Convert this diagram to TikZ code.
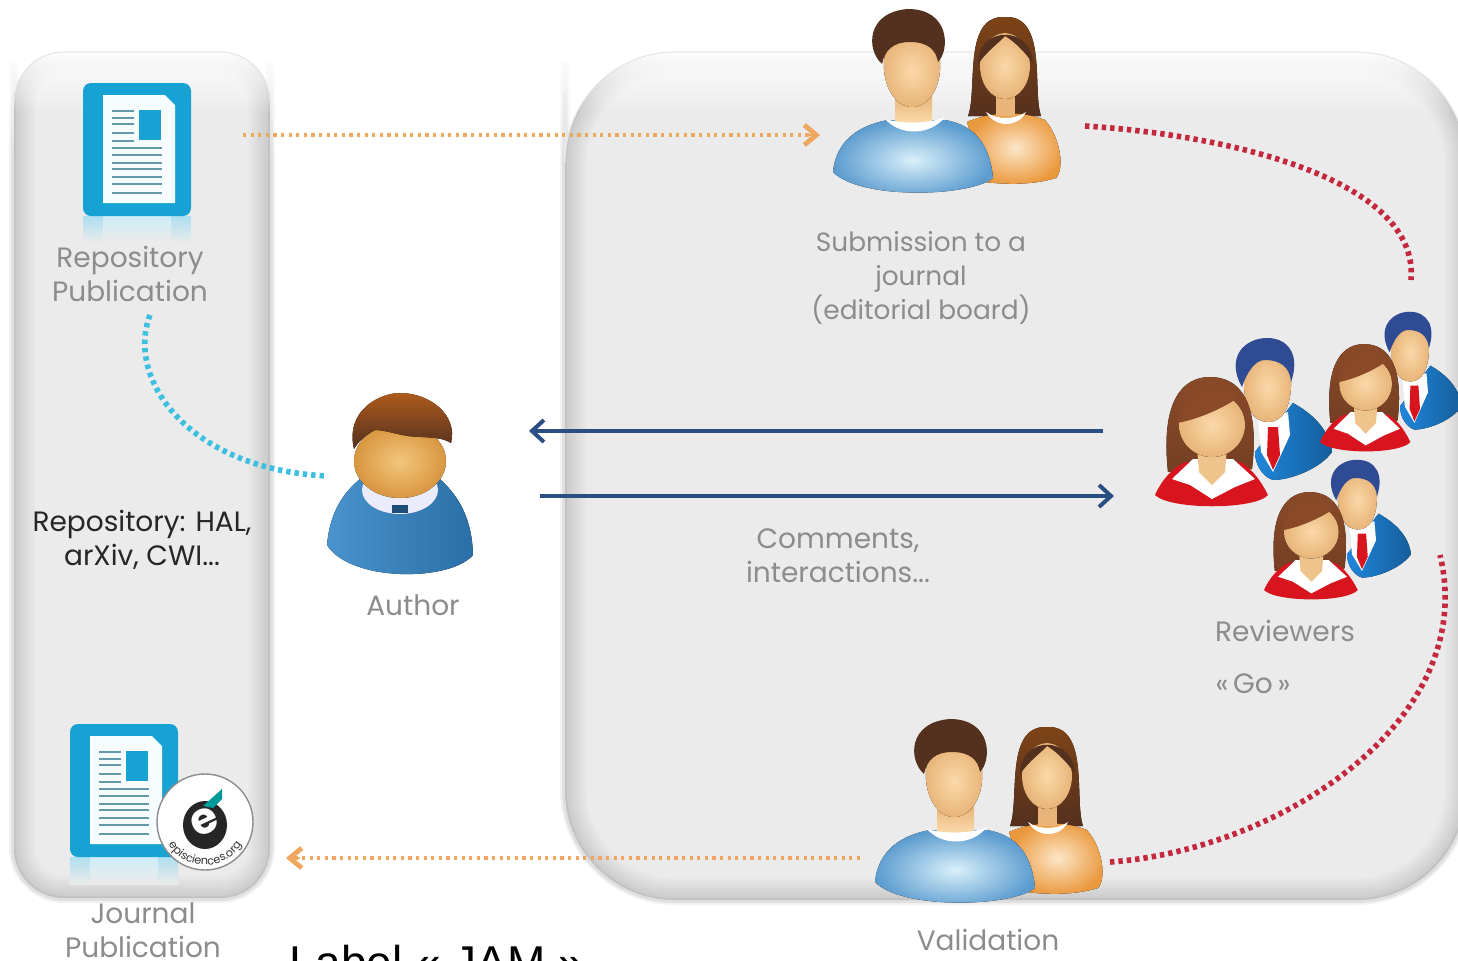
\documentclass[tikz,border=0pt]{standalone}
\usepackage{fontspec}
\setmainfont{Poppins}
\newfontfamily\labelfont{Liberation Sans}
\usetikzlibrary{arrows.meta,decorations.text,fadings}
\definecolor{panelgrey}{HTML}{EBEBEB}
\definecolor{edgegrey}{HTML}{C2C2C2}
\definecolor{textgrey}{HTML}{8C8C8C}
\definecolor{docblue}{HTML}{16A3D3}
\definecolor{dotorange}{HTML}{EFA65F}
\definecolor{dotred}{HTML}{C4283C}
\definecolor{dotcyan}{HTML}{3DBFE0}
\definecolor{navyline}{HTML}{2A4E82}
\definecolor{skinlight}{HTML}{FAD9AA}
\definecolor{skindark}{HTML}{E8B478}
\definecolor{hairbrown}{HTML}{54301E}
\definecolor{hairauburn}{HTML}{8A4A28}
\definecolor{hairnavy}{HTML}{2F4B93}
\definecolor{suitblue}{HTML}{1F86DC}
\definecolor{dressred}{HTML}{D8141E}
\definecolor{shirtblue}{HTML}{5C9CCF}
\definecolor{shirtglow}{HTML}{D9F0FA}
\definecolor{blouse}{HTML}{EA983C}
\definecolor{blouseglow}{HTML}{FDE6C8}
\definecolor{authorblue}{HTML}{4A93CC}
\definecolor{authordeep}{HTML}{2A6FA8}
\definecolor{authorskin}{HTML}{D9963F}
\definecolor{authorskinlight}{HTML}{F2C67E}
\tikzset{
  lbl/.style={font=\fontsize{14}{17}\selectfont,text=textgrey,align=center,inner sep=0pt},
  dlbl/.style={lbl,text=black!85},
  orangedots/.style={draw=dotorange,line width=2pt,dash pattern=on 1.6pt off 2.2pt},
  reddots/.style={draw=dotred,line width=2.8pt,dash pattern=on 2.2pt off 2pt},
  cyandots/.style={draw=dotcyan,line width=2.8pt,dash pattern=on 2.2pt off 2pt},
  navyarrow/.style={draw=navyline,line width=2pt,-{Straight Barb[length=6pt,width=11pt,line width=2pt]}},
  orangetip/.style={draw=dotorange,line width=1.4pt,-{Straight Barb[length=6pt,width=10pt,line width=2.4pt]}}
}
% rounded panel with soft inner edge
\newcommand{\softpanel}[5]{% x1,y1,x2,y2,radius in pt
  \foreach \w/\o in {5pt/.05,3pt/.07}{
    \draw[rounded corners=#5pt,black,opacity=\o,line width=\w] (#1,#2+10) -- (#1,#4) -- (#3,#4) -- (#3,#2+10);
  }
  \fill[white,path fading=south] (#1-8,#2-2) rectangle (#3+8,#2+110);
  \begin{scope}
    \clip[rounded corners=#5pt] (#1,#2) rectangle (#3,#4);
    \fill[panelgrey] (#1,#2) rectangle (#3,#4);
    \foreach \w in {2,4,...,22}{
      \draw[rounded corners=#5pt,black,opacity=.011,line width=\w pt] (#1,#2) rectangle (#3,#4);
    }
    \draw[rounded corners=#5pt,edgegrey,line width=1.6pt] (#1,#2) rectangle (#3,#4);
    \fill[white,path fading=south] (#1-2,#2-2) rectangle (#3+2,#2+62);
  \end{scope}
  \draw[rounded corners=#5pt,black!9,line width=.6pt] (#1,#2+40) -- (#1,#2) -- (#3,#2) -- (#3,#2+40);
}
% document icon, origin = top-left of blue square
\newcommand{\docicon}[2]{%
  \begin{scope}[shift={(#1,#2)}]
    \fill[top color=docblue!35,bottom color=panelgrey] (0,133) rectangle (108,160);
    \fill[top color=white!80!docblue,bottom color=panelgrey] (20,133) rectangle (88,160);
    \fill[docblue,rounded corners=4pt] (0,0) rectangle (108,133);
    \fill[white!97!cyan] (20,12) -- (82,12) -- (92,22) -- (92,120) -- (20,120) -- cycle;
    \fill[docblue] (56,27) rectangle (78,57);
    \foreach \y in {27,34,40,49,57}{\fill[docblue!60!black!65] (29,\y) rectangle (51,\y+1.8);}
    \foreach \y in {64,71,79,85,93,100,109}{\fill[docblue!60!black!65] (29,\y) rectangle (79,\y+1.8);}
  \end{scope}
}
% pair of editors, drawn at shift
\newcommand{\editorpair}[2]{%
  \begin{scope}[shift={(#1,#2)}]
    % woman
    \fill[top color=hairbrown!75!orange,bottom color=hairbrown] (968,116) .. controls (978,90) and (962,15) .. (1005,17) .. controls (1048,15) and (1032,90) .. (1041,116) -- cycle;
    \fill[inner color=blouseglow,outer color=blouse] (967,122) .. controls (990,112) and (1020,110) .. (1045,120) .. controls (1062,140) and (1064,170) .. (1056,178) .. controls (1030,186) and (1000,184) .. (985,182) -- cycle;
    \fill[skindark] (996,90) rectangle (1015,116);
    \fill[white] (986,112) .. controls (995,128) and (1018,128) .. (1026,112) .. controls (1015,120) and (997,120) .. (986,112) -- cycle;
    \fill[inner color=skinlight,outer color=skindark] (1005,66) ellipse (25 and 33);
    \fill[hairbrown] (978,64) .. controls (978,25) and (1032,25) .. (1033,64) .. controls (1024,50) and (1012,40) .. (1005,36) .. controls (1000,42) and (988,50) .. (978,64) -- cycle;
    % man
    \fill[inner color=shirtglow,outer color=shirtblue] (833,172) .. controls (836,140) and (860,125) .. (888,120) -- (945,120) .. controls (975,125) and (990,145) .. (993,178) .. controls (970,197) and (860,200) .. (833,172) -- cycle;
    \fill[top color=skindark,bottom color=skinlight] (895,96) rectangle (932,122);
    \fill[white] (885,119) .. controls (900,136) and (930,136) .. (945,117) .. controls (930,124) and (900,124) .. (885,119) -- cycle;
    \fill[inner color=skinlight,outer color=skindark] (884,60) .. controls (882,85) and (895,107) .. (912,107) .. controls (930,107) and (942,85) .. (940,60) .. controls (940,35) and (884,35) .. (884,60) -- cycle;
    \fill[hairbrown] (882,64) .. controls (866,50) and (866,12) .. (908,9) .. controls (950,9) and (950,50) .. (938,62) .. controls (936,50) and (928,42) .. (910,42) .. controls (893,42) and (885,50) .. (882,64) -- cycle;
  \end{scope}
}
% reviewer pair, origin = lower-left of the woman's dress
\newcommand{\reviewerpair}[4]{%
  \begin{scope}[shift={(#1,#2)},xscale=#3,yscale=#4]
    % man
    \fill[left color=suitblue,right color=suitblue!70!black] (100,-55) -- (138,-104) .. controls (160,-92) and (175,-75) .. (177,-55) .. controls (165,-38) and (135,-27) .. (118,-27) .. controls (108,-30) and (100,-42) .. (100,-55) -- cycle;
    \fill[white] (103,-88) -- (133,-95) -- (135,-72) -- (118,-35) -- (106,-55) -- cycle;
    \fill[dressred] (113,-80) -- (123,-80) -- (125,-52) -- (118,-37) -- (112,-52) -- cycle;
    \fill[inner color=skinlight,outer color=skindark] (89,-155) -- (137,-155) -- (136,-120) .. controls (135,-100) and (128,-85) .. (113,-85) .. controls (98,-85) and (90,-100) .. (89,-120) -- cycle;
    \fill[hairnavy] (87,-120) .. controls (70,-150) and (90,-169) .. (112,-169) .. controls (135,-169) and (145,-150) .. (136,-125) .. controls (135,-140) and (125,-147) .. (110,-147) .. controls (100,-147) and (92,-135) .. (87,-120) -- cycle;
    % woman
    \fill[top color=hairauburn,bottom color=hairauburn!85!black] (13,-35) .. controls (5,-110) and (30,-130) .. (55,-130) .. controls (85,-130) and (105,-105) .. (97,-38) -- cycle;
    \fill[dressred] (0,-12) .. controls (8,-30) and (20,-40) .. (30,-45) -- (85,-45) .. controls (95,-40) and (105,-28) .. (113,-12) .. controls (100,3) and (15,3) .. (0,-12) -- cycle;
    \fill[white] (17,-28) -- (38,-48) -- (78,-48) -- (100,-28) -- (80,-20) -- (57,-8) -- (35,-22) -- cycle;
    \fill[skindark!60!skinlight] (42,-60) -- (72,-60) -- (70,-35) -- (57,-22) -- (44,-35) -- cycle;
    \fill[inner color=skinlight,outer color=skindark] (57,-82) ellipse (33 and 32);
    \fill[hairauburn] (22,-84) .. controls (45,-88) and (70,-100) .. (84,-110) .. controls (70,-125) and (30,-125) .. (22,-84) -- cycle;
  \end{scope}
}
\begin{document}
\begin{tikzpicture}[x=0.5pt,y=-0.5pt]
\useasboundingbox (0,0) rectangle (1458,960);
\fill[white] (0,0) rectangle (1458,960);
% panels
\softpanel{14}{52}{270}{898}{25}
\softpanel{565}{52}{1466}{900}{55}
% icons
\docicon{83}{83}
\docicon{70}{724}
% badge
\node[circle,draw=black!45,fill=white,line width=.7pt,minimum size=48pt,inner sep=0pt] (badge) at (205,822) {};
\fill[black!85] (205,825) ellipse (22 and 24);
\fill[teal!80!cyan] (203,806) -- (222,789) -- (222,799) -- (213,808) -- cycle;
\node[text=white,inner sep=0pt,rotate=25,font=\fontsize{22}{22}\selectfont\bfseries] (badgee) at (205,822) {e};
\path[postaction={decorate},decoration={text along path,text align=center,
   text={|\fontsize{5.6}{7}\selectfont\color{black!80}|episciences.org}}]
   (164.6,807.3) .. controls (154.4,835.3) and (175.2,865) .. (205,865) .. controls (234.8,865) and (255.6,835.3) .. (245.4,807.3);
% people
\editorpair{0}{0}
\editorpair{42}{710}
\reviewerpair{1155}{507}{1}{1}
\reviewerpair{1320}{452}{.8}{.83}
\reviewerpair{1264}{600}{.83}{.83}
% author
\fill[left color=authorblue,right color=authordeep] (327,545) .. controls (330,510) and (345,490) .. (365,475) -- (435,475) .. controls (460,495) and (472,520) .. (473,555) .. controls (450,582) and (350,582) .. (327,545) -- cycle;
\fill[black!12!blue!8!white] (400,490) ellipse (38 and 24);
\fill[authordeep!70!black] (392,505) rectangle (408,513);
\fill[inner color=authorskinlight,outer color=authorskin] (400,461) ellipse (46 and 37);
\fill[top color=hairauburn!70!orange,bottom color=hairbrown] (354,449) .. controls (345,410) and (380,393) .. (400,393) .. controls (430,393) and (458,415) .. (451,443) .. controls (440,436) and (425,438) .. (408,436) .. controls (395,434) and (385,430) .. (375,430) .. controls (365,435) and (358,442) .. (354,449) -- cycle;
% connector ends
\coordinate (repoOut) at (243,135);
\coordinate (submitIn) at (820,135);
\coordinate (submitOut) at (1085,126);
\coordinate (reviewIn) at (1411,280);
\coordinate (reviewOut) at (1440,555);
\coordinate (validIn) at (1110,862);
\coordinate (validOut) at (860,858);
\coordinate (journalIn) at (286,858);
\coordinate (repoIn) at (150,315);
\coordinate (authorOut) at (328,476);
\coordinate (revBack) at (1103,431);
\coordinate (authorIn) at (529,431);
\coordinate (authorBack) at (540,496);
\coordinate (revIn) at (1114,496);
% connectors
\draw[orangedots] (repoOut) -- ([xshift=-4pt]submitIn);
\draw[orangetip] ([xshift=-7pt]submitIn) -- (submitIn);
\draw[orangedots] (validOut) -- ([xshift=4pt]journalIn);
\draw[orangetip] ([xshift=7pt]journalIn) -- (journalIn);
\draw[reddots] (submitOut) .. controls (1230,135) and (1420,180) .. (reviewIn);
\draw[reddots] (validIn) .. controls (1280,850) and (1480,720) .. (reviewOut);
\draw[cyandots] (repoIn) .. controls (125,380) and (190,470) .. (authorOut);
\draw[navyarrow] (revBack) -- (authorIn);
\draw[navyarrow] (authorBack) -- (revIn);
% labels
\node[lbl] (repoLabel) at (130,274) {Repository\\Publication};
\node[dlbl] (hostLabel) at (142,540) {Repository: HAL,\\arXiv, CWI...};
\node[lbl] (authorLabel) at (413,605) {Author};
\node[lbl] (journalLabel) at (143,930) {Journal\\Publication};
\node[lbl,font=\fontsize{13.2}{17}\selectfont] (submitLabel) at (921,278) {Submission to a\\journal\\(editorial board)};
\node[lbl] (commentLabel) at (838,556) {Comments,\\interactions...};
\node[lbl] (reviewLabel) at (1285,631) {Reviewers};
\node[lbl] (goLabel) at (1253,684) {«\,Go\,»};
\node[lbl] (validLabel) at (988,940) {Validation};
\node[anchor=base,inner sep=0pt,text=black,font=\labelfont\fontsize{23}{23}\selectfont] (iamLabel) at (437,978) {Label « JAM »};
\end{tikzpicture}
\end{document}
